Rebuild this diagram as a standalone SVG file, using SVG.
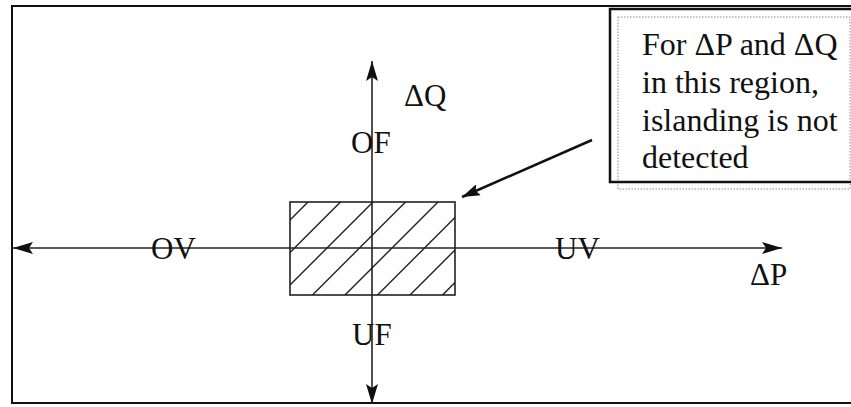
<svg xmlns="http://www.w3.org/2000/svg" width="851" height="407" viewBox="0 0 851 407">
  <style>
    .lbl { font-family: "Liberation Serif", "Times New Roman", serif; font-size: 31px; fill: #111; }
    .call { font-family: "Liberation Serif", "Times New Roman", serif; font-size: 32px; fill: #111; }
    .axis { stroke: #222; stroke-width: 1.6; fill: none; }
    .hatch { stroke: #222; stroke-width: 1.4; fill: none; }
  </style>
  <defs>
    <marker id="ah" viewBox="0 0 20 12" refX="20" refY="6" markerWidth="20" markerHeight="12" markerUnits="userSpaceOnUse" orient="auto-start-reverse">
      <path d="M0,0 L20,6 L0,12 L4,6 z" fill="#111"/>
    </marker>
    <marker id="ah2" viewBox="0 0 18 12" refX="18" refY="6" markerWidth="18" markerHeight="12" markerUnits="userSpaceOnUse" orient="auto">
      <path d="M0,0 L18,6 L0,12 L3,6 z" fill="#111"/>
    </marker>
    <clipPath id="rc">
      <rect x="290" y="202" width="165" height="93"/>
    </clipPath>
  </defs>

  <rect width="851" height="407" fill="#fff"/>

  <g id="frame">
    <rect x="12" y="6" width="850" height="397" fill="none" stroke="#111" stroke-width="2"/>
  </g>

  <g id="region">
    <g clip-path="url(#rc)">
      <line class="hatch" x1="200" y1="310" x2="320" y2="190"/>
      <line class="hatch" x1="232.5" y1="310" x2="352.5" y2="190"/>
      <line class="hatch" x1="265" y1="310" x2="385" y2="190"/>
      <line class="hatch" x1="297.5" y1="310" x2="417.5" y2="190"/>
      <line class="hatch" x1="330" y1="310" x2="450" y2="190"/>
      <line class="hatch" x1="362.5" y1="310" x2="482.5" y2="190"/>
      <line class="hatch" x1="395" y1="310" x2="515" y2="190"/>
      <line class="hatch" x1="427.5" y1="310" x2="547.5" y2="190"/>
    </g>
    <rect x="290" y="202" width="165" height="93" fill="none" stroke="#222" stroke-width="1.6"/>
  </g>

  <g id="connectors">
    <line class="axis" x1="13" y1="248" x2="782" y2="248" marker-start="url(#ah)" marker-end="url(#ah)"/>
    <line class="axis" x1="372" y1="61" x2="372" y2="404" marker-start="url(#ah)" marker-end="url(#ah)"/>
    <line x1="592" y1="140" x2="462" y2="197" stroke="#111" stroke-width="2.5" marker-end="url(#ah2)"/>
  </g>

  <g id="labels">
    <text class="lbl" x="151" y="259">OV</text>
    <text class="lbl" x="555" y="259">UV</text>
    <text class="lbl" x="750" y="285">ΔP</text>
    <text class="lbl" x="404" y="106">ΔQ</text>
    <text class="lbl" x="351" y="153">OF</text>
    <text class="lbl" x="352" y="345">UF</text>
  </g>

  <g id="callout">
    <rect x="618" y="17" width="232" height="172" fill="none" stroke="#888" stroke-width="1" stroke-dasharray="1.5 1.5"/>
    <rect x="610" y="9" width="260" height="173" fill="none" stroke="#111" stroke-width="2.5"/>
    <text class="call" x="642" y="55">For ΔP and ΔQ</text>
    <text class="call" x="642" y="93">in this region,</text>
    <text class="call" x="642" y="131">islanding is not</text>
    <text class="call" x="642" y="168">detected</text>
  </g>
</svg>
